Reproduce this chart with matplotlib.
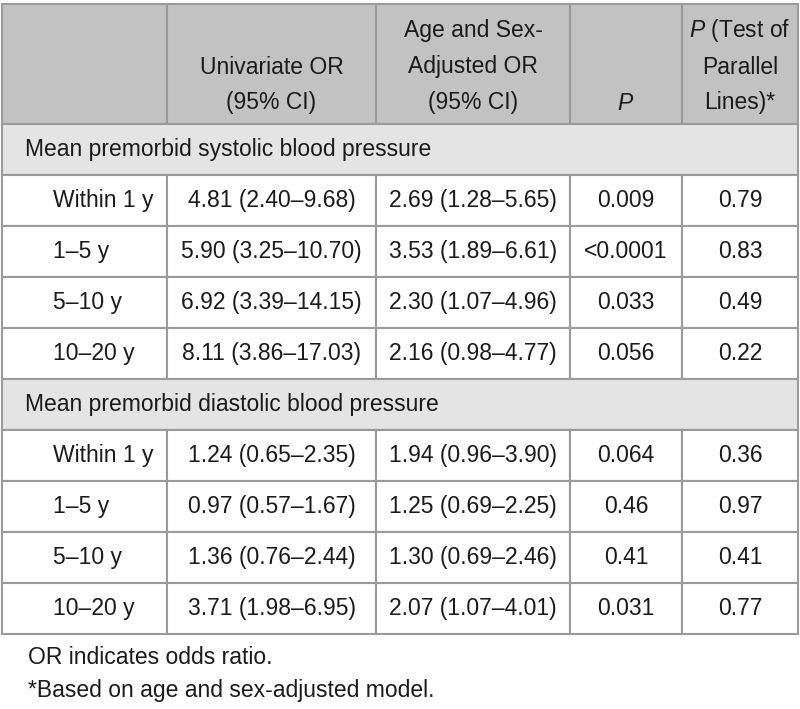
import matplotlib.pyplot as plt
from matplotlib.patches import Rectangle

plt.rcParams['font.family'] = ['Liberation Sans', 'DejaVu Sans']
plt.rcParams['mathtext.fontset'] = 'custom'
plt.rcParams['mathtext.rm'] = 'Liberation Sans'
plt.rcParams['mathtext.it'] = 'Liberation Sans:italic'

# donnees du tableau
headers = ["", "Univariate OR\n(95% CI)", "Age and Sex-\nAdjusted OR\n(95% CI)",
           "$P$", "$P$ (Test of\nParallel\nLines)*"]
sections = ["Mean premorbid systolic blood pressure",
            "Mean premorbid diastolic blood pressure"]
periods = ["Within 1 y", "1–5 y", "5–10 y", "10–20 y"]
univ_sys = ["4.81 (2.40–9.68)", "5.90 (3.25–10.70)", "6.92 (3.39–14.15)", "8.11 (3.86–17.03)"]
adj_sys = ["2.69 (1.28–5.65)", "3.53 (1.89–6.61)", "2.30 (1.07–4.96)", "2.16 (0.98–4.77)"]
p_sys = ["0.009", "<0.0001", "0.033", "0.056"]
ppar_sys = ["0.79", "0.83", "0.49", "0.22"]
univ_dia = ["1.24 (0.65–2.35)", "0.97 (0.57–1.67)", "1.36 (0.76–2.44)", "3.71 (1.98–6.95)"]
adj_dia = ["1.94 (0.96–3.90)", "1.25 (0.69–2.25)", "1.30 (0.69–2.46)", "2.07 (1.07–4.01)"]
p_dia = ["0.064", "0.46", "0.41", "0.031"]
ppar_dia = ["0.36", "0.97", "0.41", "0.77"]
notes = ["OR indicates odds ratio.", "*Based on age and sex-adjusted model."]

# geometrie en pixels
col_x = [2, 167, 376, 570, 682, 798]
header_top, header_bot = 4, 124
row_h = 51
fs = 16.5
txt_col = '#1a1a1a'
line_col = '#9a9a9a'
head_col = '#c2c2c2'
sect_col = '#e4e4e4'

fig = plt.figure(figsize=(8, 7.09), dpi=100)
ax = fig.add_axes([0, 0, 1, 1])
ax.set_xlim(0, 800)
ax.set_ylim(709, 0)
ax.axis('off')

def cell(x0, x1, y0, y1, fc):
    ax.add_patch(Rectangle((x0, y0), x1 - x0, y1 - y0, facecolor=fc,
                           edgecolor=line_col, linewidth=1.5))

# entete
for i in range(5):
    cell(col_x[i], col_x[i + 1], header_top, header_bot, head_col)
    lines = headers[i].split("\n")
    for k, l in enumerate(reversed(lines)):
        ax.text((col_x[i] + col_x[i + 1]) / 2, 103 - 36 * k, l, ha='center',
                va='center', fontsize=fs, color=txt_col)

y = header_bot
blocks = [(univ_sys, adj_sys, p_sys, ppar_sys), (univ_dia, adj_dia, p_dia, ppar_dia)]
for s, blk in zip(sections, blocks):
    cell(col_x[0], col_x[-1], y, y + row_h, sect_col)
    ax.text(25, y + row_h / 2, s, ha='left', va='center', fontsize=fs, color=txt_col)
    y += row_h
    for r in range(len(periods)):
        for i in range(5):
            cell(col_x[i], col_x[i + 1], y, y + row_h, 'white')
        ax.text(53, y + row_h / 2, periods[r], ha='left', va='center', fontsize=fs, color=txt_col)
        for i, vals in enumerate(blk):
            ax.text((col_x[i + 1] + col_x[i + 2]) / 2, y + row_h / 2, vals[r],
                    ha='center', va='center', fontsize=fs, color=txt_col)
        y += row_h

# notes
for k, n in enumerate(notes):
    ax.text(28, 657 + 33 * k, n, ha='left', va='center', fontsize=fs, color=txt_col)

fig.savefig('out.png', dpi=100, facecolor='white')
